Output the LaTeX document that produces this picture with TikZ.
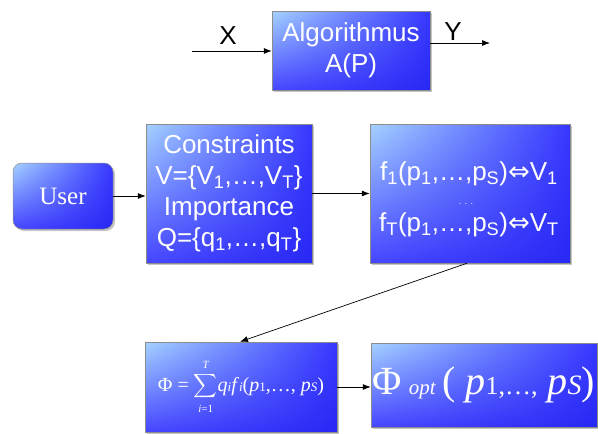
\documentclass[tikz,border=0pt]{standalone}
\usepackage{graphicx}
\usepackage{fontspec}
\setmainfont{Liberation Sans}
\newfontfamily\seriffont{Liberation Serif}
\newfontfamily\dejavu{DejaVu Sans}
\usetikzlibrary{arrows.meta,shadows,shadings}
\definecolor{bxlight}{RGB}{165,210,255}
\definecolor{bxmid}{RGB}{70,70,255}
\definecolor{bxdark}{RGB}{40,40,245}
\definecolor{bxright}{RGB}{55,55,255}
\newcommand\fsz[1]{\fontsize{#1}{#1}\selectfont}
\newcommand\bigsum{\raisebox{-2.6pt}{\scalebox{1.65}{$\displaystyle\sum$}}}
\tikzset{
  bluebox/.style={shade, draw=black!45, line width=0.5pt,
    upper left=bxlight, upper right=bxright, lower left=bxmid, lower right=bxdark,
    drop shadow={shadow xshift=2pt, shadow yshift=-2pt, fill=black!45},
    text=white, align=center, inner sep=0pt,
    font=\fontsize{26}{31}\selectfont},
  boxtext/.style={text=white, align=center, inner sep=0pt, font=\fontsize{26}{31}\selectfont},
  conn/.style={line width=0.7pt, -{Latex[length=8pt,width=6pt]}},
  lbl/.style={font=\fontsize{26}{30}\selectfont, inner sep=0pt},
}
\begin{document}
\begin{tikzpicture}[x=1pt,y=-1pt]
\useasboundingbox (0,0) rectangle (598,434);
\clip (0,0) rectangle (598,434);
% top
\node[bluebox, minimum width=158pt, minimum height=79pt] (algo) at (351,50.5) {Algorithmus\\A(P)};
\coordinate (xin) at (192,51);
\coordinate (yout) at (490,43);
\draw[conn] (xin) -- (xin -| algo.west);
\draw[conn] (yout -| algo.east) -- (yout);
\node[lbl] (xlab) at (228,36) {X};
\node[lbl] (ylab) at (453,32) {Y};
% middle
\node[bluebox, rounded corners=9pt, minimum width=100pt, minimum height=66pt,
  font=\seriffont\fontsize{25}{30}\selectfont] (user) at (63,196) {User};
\node[bluebox, minimum width=166pt, minimum height=139pt] (cons) at (229,193.5)
  {Constraints\\V=\{V\textsubscript{1},…,V\textsubscript{T}\}\\Importance\\Q=\{q\textsubscript{1},…,q\textsubscript{T}\}};
\node[bluebox, minimum width=200pt, minimum height=139pt] (fbox) at (470,193.5) {};
\node[boxtext] (ftext) at (469,199)
  {f\textsubscript{1}(p\textsubscript{1},…,p\textsubscript{S}){\dejavu ⇔}V\textsubscript{1}\\[20pt]
   f\textsubscript{T}(p\textsubscript{1},…,p\textsubscript{S}){\dejavu ⇔}V\textsubscript{T}};
\node[text=white, font=\fsz{9}, inner sep=0pt] (dots) at (466,204) {. . .};
\draw[conn] (user.east) -- (user.east -| cons.west);
\draw[conn] (cons.east) -- (fbox.west);
% bottom
\node[bluebox, minimum width=192pt, minimum height=90pt, font=\seriffont\fsz{20}] (phi) at (241,387)
  {Φ = $\mathop{\mbox{\bigsum}}\limits_{\mbox{\rule{0pt}{12pt}\seriffont\itshape\fsz{11}i\upshape=1}}^{\mbox{\seriffont\itshape\fsz{11}T\rule[-3pt]{0pt}{0pt}}}$\textit{q}{\fsz{13}\itshape i}\textit{f}{\fsz{13}\itshape i}(\textit{p}{\fsz{13}1},…, \textit{p}{\fsz{13}\itshape S})};
\node[bluebox, minimum width=226pt, minimum height=84pt, font=\seriffont\fsz{40}] (opt) at (484,385)
  {Φ\,{\fsz{21}\itshape opt}\,( \textit{p}{\fsz{26}1,…,}\ \textit{p}{\fsz{28}\itshape S})};
\draw[conn] ([xshift=-3pt]fbox.south) -- ([xshift=-1pt]phi.north);
\draw[conn] (phi.east) -- (phi.east -| opt.west);
\end{tikzpicture}
\end{document}
